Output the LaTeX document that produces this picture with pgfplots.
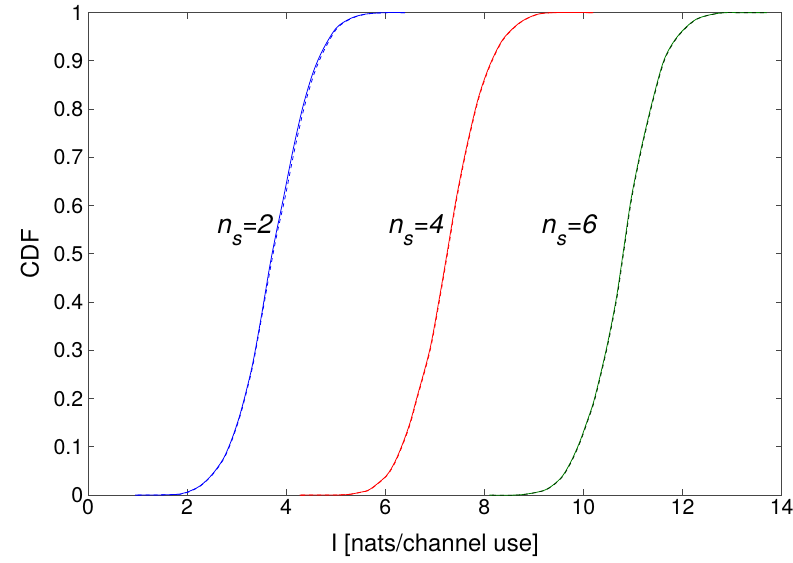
\documentclass[border=0pt]{standalone}
\usepackage{fontspec}
\setmainfont{TeX Gyre Heros}
\setsansfont{TeX Gyre Heros}
\usepackage{pgfplots}
\pgfplotsset{compat=1.18}
\definecolor{mblue}{RGB}{0,0,255}
\definecolor{mred}{RGB}{255,0,0}
\definecolor{mgreen}{RGB}{0,128,0}
\definecolor{axgray}{RGB}{70,70,70}
\newcommand{\nsub}[1]{n\raisebox{-9pt}{\fontsize{15}{15}\selectfont s}=#1}
\begin{document}
\begin{tikzpicture}
\begin{axis}[
  scale only axis,
  width=520.5pt, height=362pt,
  xmin=0, xmax=14, ymin=0, ymax=1,
  xtick={0,2,...,14},
  ytick={0,0.1,0.2,0.3,0.4,0.5,0.6,0.7,0.8,0.9,1},
  /pgf/number format/assume math mode=true,
  /pgf/number format/fixed,
  tick label style={font=\fontsize{16}{19}\selectfont},
  label style={font=\fontsize{18}{21}\selectfont},
  xlabel={I [nats/channel use]},
  ylabel={CDF},
  xlabel style={at={(axis description cs:0.5,-0.104)},anchor=center},
  ylabel style={at={(axis description cs:-0.0836,0.5)},anchor=center},
  tick align=inside,
  major tick length=4.5pt,
  axis line style={axgray, line width=0.6pt},
  every tick/.style={axgray, line width=0.6pt},
  clip=true,
]
% blue n_s=2
\addplot[mblue, line width=0.6pt, smooth, tension=0.5] coordinates {
(0.95,0) (1.5,0.0005) (1.85,0.002) (2.0,0.006) (2.26,0.019) (2.5,0.042)
(2.73,0.075) (2.9,0.115) (3.06,0.164) (3.2,0.218) (3.33,0.275) (3.5,0.371)
(3.67,0.475) (3.80,0.544) (3.94,0.613) (4.14,0.716) (4.34,0.806) (4.54,0.875)
(4.74,0.923) (5.01,0.968) (5.3,0.988) (5.6,0.997) (6.0,1.0) (6.4,1.0)};
\addplot[mblue, line width=0.6pt, dashed, smooth, tension=0.5] coordinates {
(1.0,0) (1.5,0.0005) (1.87,0.002) (2.02,0.006) (2.27,0.019) (2.51,0.042)
(2.74,0.075) (2.91,0.115) (3.07,0.164) (3.21,0.218) (3.34,0.275) (3.51,0.371)
(3.69,0.475) (3.82,0.544) (3.97,0.613) (4.17,0.716) (4.37,0.806) (4.57,0.875)
(4.77,0.923) (5.03,0.968) (5.32,0.988) (5.62,0.997) (6.0,1.0) (6.4,1.0)};
% red n_s=4
\addplot[mred, line width=0.6pt, smooth, tension=0.5] coordinates {
(4.27,0) (4.8,0.0003) (5.22,0.001) (5.5,0.006) (5.69,0.012) (6.02,0.040)
(6.2,0.07) (6.36,0.109) (6.5,0.15) (6.63,0.199) (6.90,0.302) (7.10,0.413)
(7.26,0.509) (7.43,0.613) (7.63,0.716) (7.87,0.820) (8.10,0.889) (8.37,0.944)
(8.71,0.979) (9.05,0.996) (9.4,1.0) (10.2,1.0)};
\addplot[mred, line width=0.6pt, dashed, smooth, tension=0.5] coordinates {
(4.3,0) (4.8,0.0003) (5.23,0.001) (5.51,0.006) (5.70,0.012) (6.03,0.040)
(6.21,0.07) (6.37,0.109) (6.51,0.15) (6.64,0.199) (6.91,0.302) (7.11,0.413)
(7.27,0.509) (7.44,0.613) (7.64,0.716) (7.88,0.820) (8.11,0.889) (8.38,0.944)
(8.72,0.979) (9.06,0.996) (9.4,1.0) (10.2,1.0)};
% green n_s=6
\addplot[mgreen, line width=0.6pt, smooth, tension=0.5] coordinates {
(8.1,0) (8.71,0.0005) (9.18,0.009) (9.4,0.022) (9.58,0.040) (9.75,0.07)
(9.92,0.109) (10.08,0.155) (10.22,0.199) (10.46,0.302) (10.66,0.406)
(10.81,0.509) (10.96,0.613) (11.16,0.716) (11.40,0.820) (11.63,0.903)
(11.90,0.951) (12.27,0.986) (12.74,0.999) (13.2,1.0) (13.7,1.0)};
\addplot[black!60!mgreen, line width=0.6pt, dashed, smooth, tension=0.5] coordinates {
(8.15,0) (8.72,0.0005) (9.19,0.009) (9.41,0.022) (9.59,0.040) (9.76,0.07)
(9.93,0.109) (10.09,0.155) (10.23,0.199) (10.47,0.302) (10.67,0.406)
(10.82,0.509) (10.97,0.613) (11.17,0.716) (11.41,0.820) (11.64,0.903)
(11.91,0.951) (12.28,0.986) (12.75,0.999) (13.2,1.0) (13.7,1.0)};
\node[font=\fontsize{20}{22}\selectfont\itshape] at (axis cs:3.17,0.55) {\nsub{2}};
\node[font=\fontsize{20}{22}\selectfont\itshape] at (axis cs:6.63,0.55) {\nsub{4}};
\node[font=\fontsize{20}{22}\selectfont\itshape] at (axis cs:9.72,0.55) {\nsub{6}};
\end{axis}
\pgfresetboundingbox
\path (-66pt,-50.5pt) rectangle (529pt,371.5pt);
\end{tikzpicture}
\end{document}
